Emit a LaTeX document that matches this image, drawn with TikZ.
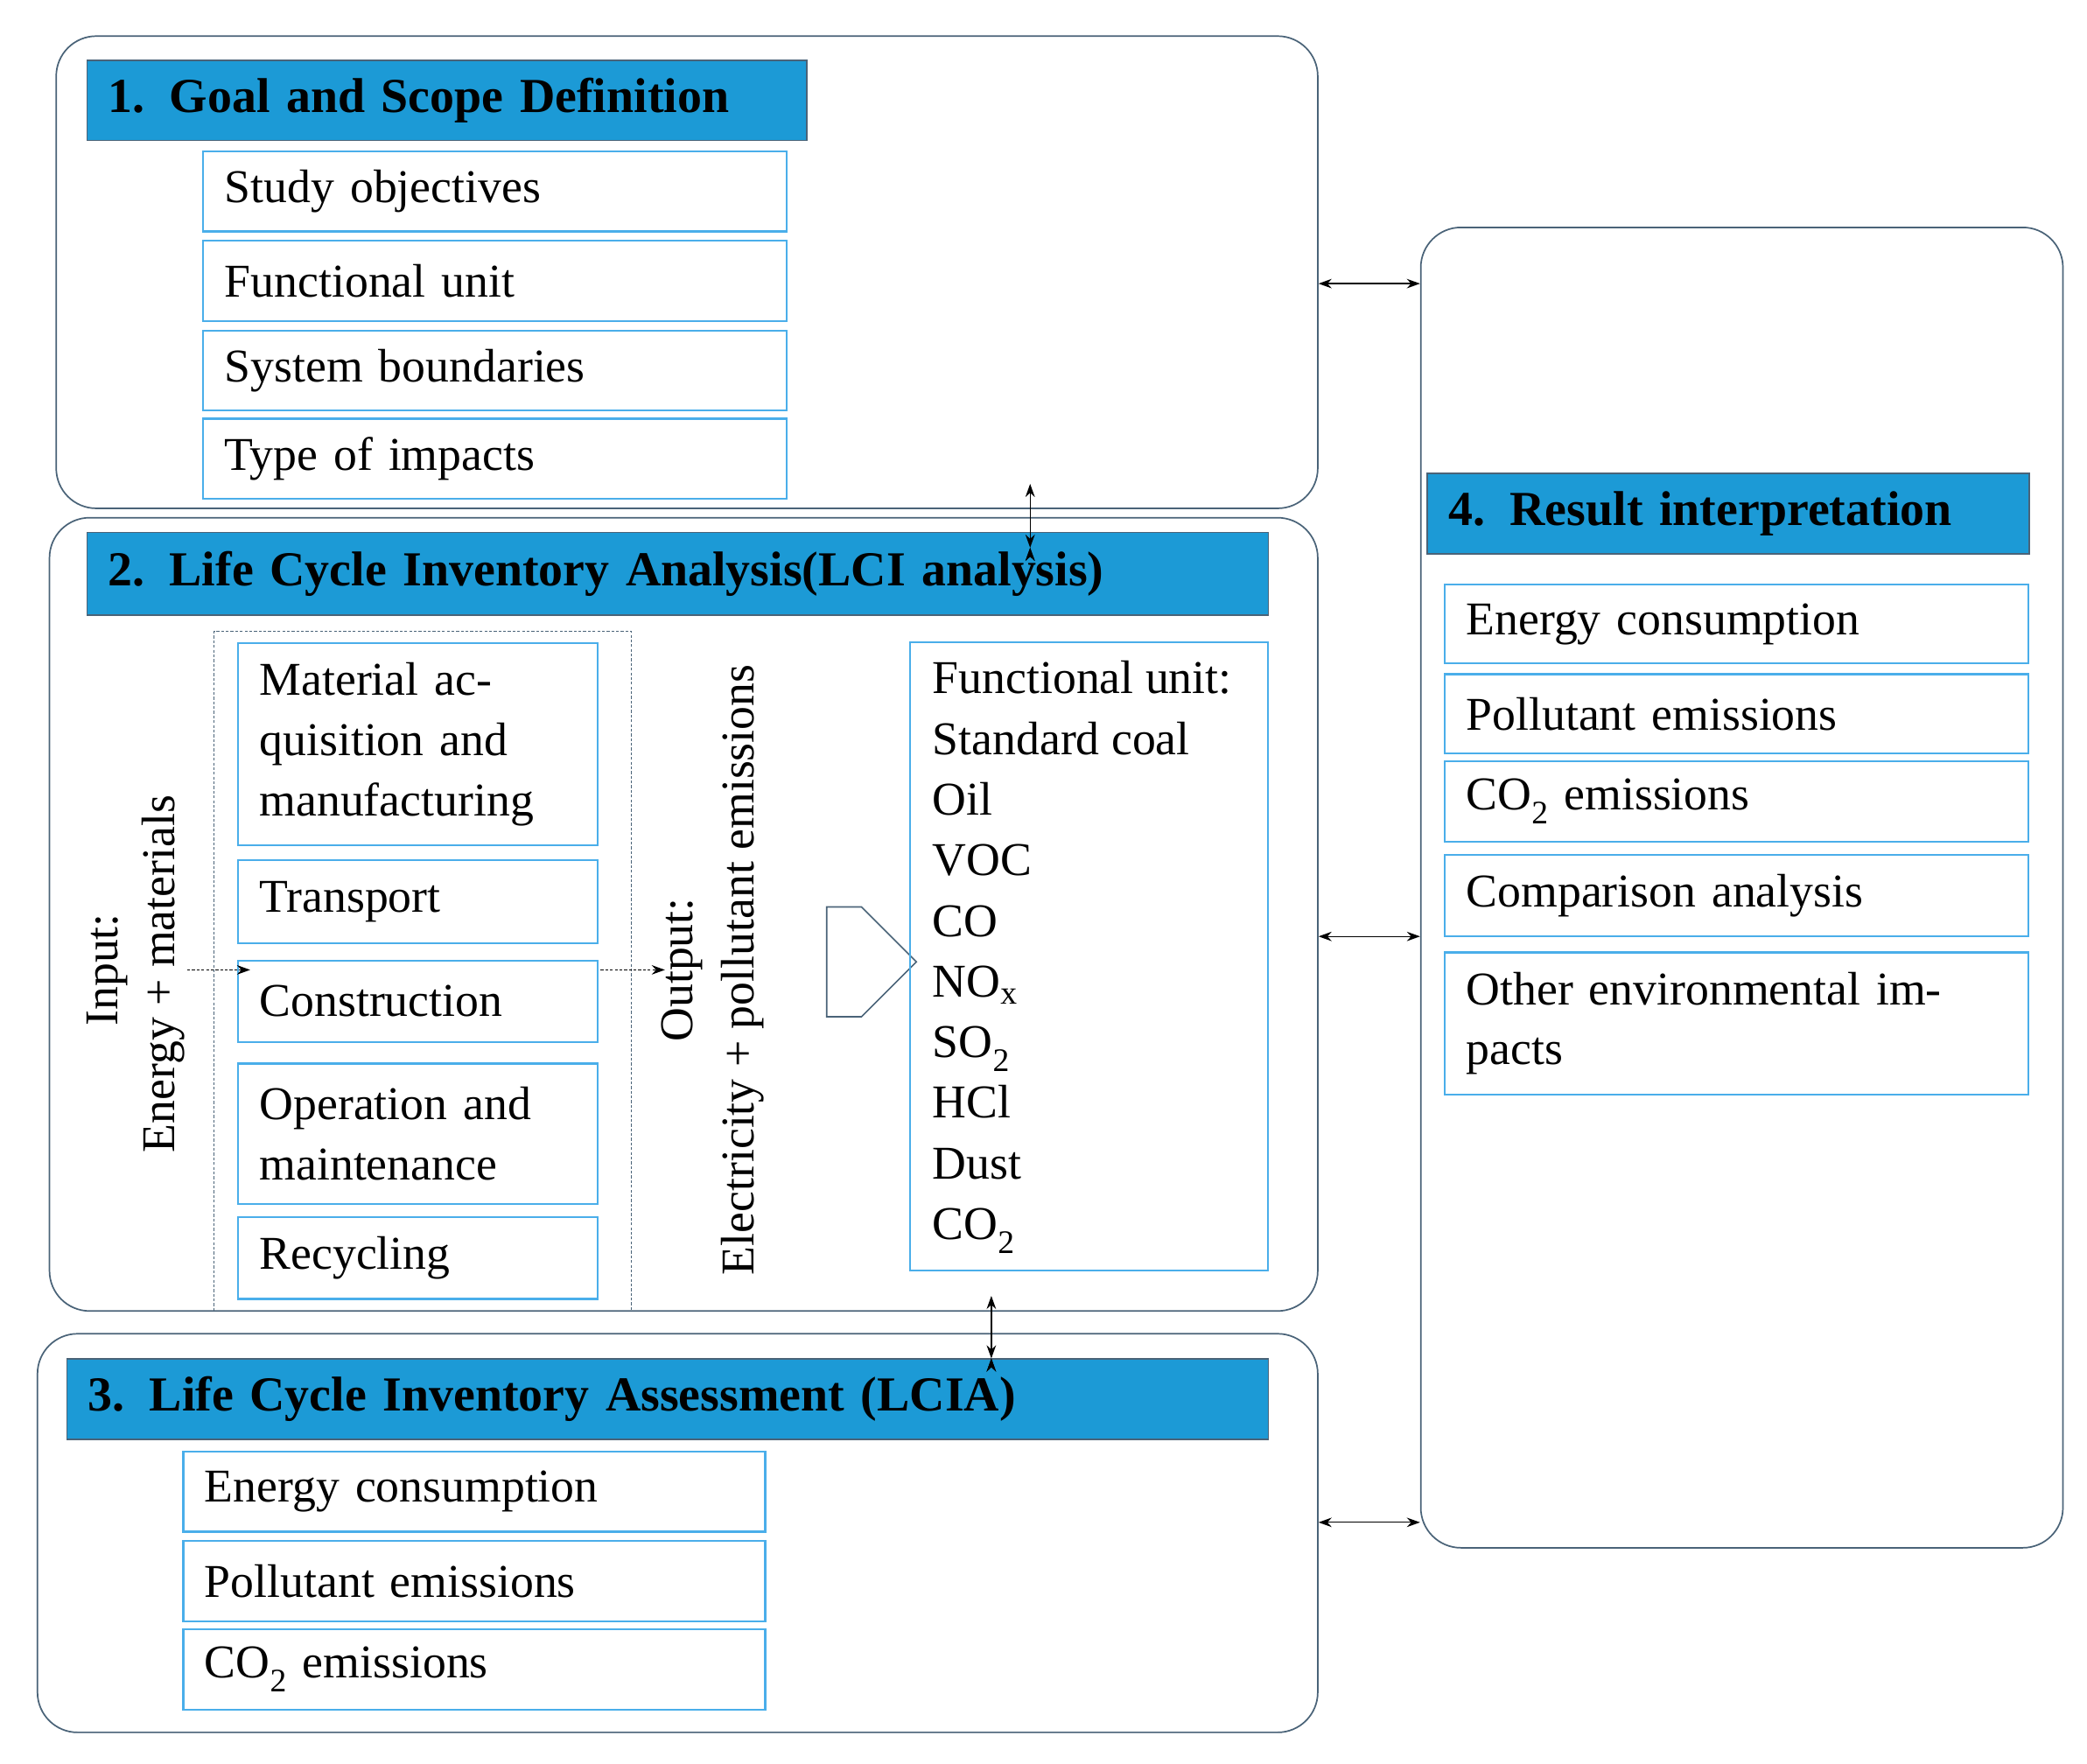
\documentclass[tikz,border=0pt]{standalone}
\usepackage{fontspec}
\setmainfont{Liberation Serif}
\usetikzlibrary{arrows.meta,shapes.arrows}
\definecolor{tb}{HTML}{1C9AD6}
\definecolor{ib}{HTML}{4AAEEA}
\definecolor{ob}{HTML}{4A6378}
\newcommand\bx[7]{\node[#6,minimum width={(#4-#2)*0.05cm},minimum height={(#5-#3)*0.05cm},text width={(#4-#2-32)*0.05cm}] (#1) at ({(#2+#4)/2*0.05cm},{-(#3+#5)/2*0.05cm}) {#7};}
\tikzset{
 big/.style={draw=ob,line width=1.6pt,rounded corners=1.5cm,inner sep=0pt},
 ttl/.style={draw=ob,fill=tb,line width=1.6pt,inner xsep=0.6cm,inner ysep=0pt,align=left,font=\bfseries\fontsize{52}{62}\selectfont},
 itm/.style={draw=ib,line width=2pt,inner xsep=0.8cm,inner ysep=0pt,align=left,font=\fontsize{50}{64}\selectfont},
 dbl/.style={line width=1.2pt,{Stealth[length=14pt,width=10pt]}-{Stealth[length=14pt,width=10pt]}},
 dar/.style={densely dashed,line width=1.2pt,-{Stealth[length=14pt,width=10pt]}},
 rt/.style={rotate=90,font=\fontsize{50}{64}\selectfont,inner sep=0pt}
}
\begin{document}
\begin{tikzpicture}[x=0.05cm,y=-0.05cm]
\useasboundingbox (0,0) rectangle (1560,1318);
% big boxes
\bx{b1}{42}{27}{985}{380}{big}{}
\bx{b2}{37}{387}{985}{980}{big}{}
\bx{b3}{28}{997}{985}{1295}{big}{}
\bx{b4}{1062}{170}{1542}{1157}{big}{}
% box 1
\bx{t1}{65}{45}{603}{105}{ttl}{1. Goal and Scope Definition}
\bx{a1}{152}{113}{588}{173}{itm}{Study objectives}
\bx{a2}{152}{180}{588}{240}{itm}{Functional unit}
\bx{a3}{152}{247}{588}{307}{itm}{System boundaries}
\bx{a4}{152}{313}{588}{373}{itm}{Type of impacts}
% box 2
\bx{t2}{65}{398}{948}{460}{ttl}{2. Life Cycle Inventory Analysis(LCI analysis)}
\bx{dsh}{160}{472}{472}{980}{draw=ob,densely dashed,line width=1.4pt}{}
\bx{c1}{178}{481}{447}{632}{itm}{Material acquisition and manufacturing}
\bx{c2}{178}{643}{447}{705}{itm}{Transport}
\bx{c3}{178}{718}{447}{779}{itm}{Construction}
\bx{c4}{178}{795}{447}{900}{itm}{Operation and maintenance}
\bx{c5}{178}{910}{447}{971}{itm}{Recycling}
\node[rt] (in1) at (80,725) {Input:};
\node[rt] (in2) at (122,728) {Energy + materials};
\node[rt] (out1) at (510,725) {Output:};
\node[rt] (out2) at (555,725) {Electricity + pollutant emissions};
\coordinate (ia) at (140,725);
\coordinate (ib) at (187,725);
\coordinate (oa) at (449,725);
\coordinate (ob) at (497,725);
\draw[dar] (ia) -- (ib);
\draw[dar] (oa) -- (ob);
\node[single arrow,draw=ob,line width=1.6pt,minimum height=3.35cm,minimum width=4.1cm,single arrow head extend=0cm,single arrow tip angle=90,inner sep=0pt] (harr) at (631,719) {};
\bx{fu}{680}{480}{948}{950}{itm}{}
\node[anchor=north west,inner sep=0pt,align=left,font=\fontsize{50}{64.5}\selectfont] (fl) at (697,494) {Functional unit:\\Standard coal\\Oil\\VOC\\CO\\NO\textsubscript{x}\\SO\textsubscript{2}\\HCl\\Dust\\CO\textsubscript{2}};
% box 3
\bx{t3}{50}{1016}{948}{1076}{ttl}{3. Life Cycle Inventory Assessment (LCIA)}
\bx{d1}{137}{1085}{572}{1145}{itm}{Energy consumption}
\bx{d2}{137}{1152}{572}{1212}{itm}{Pollutant emissions}
\bx{d3}{137}{1218}{572}{1278}{itm}{CO\textsubscript{2} emissions}
% box 4
\bx{t4}{1067}{354}{1517}{414}{ttl}{4. Result interpretation}
\bx{e1}{1080}{437}{1516}{496}{itm}{Energy consumption}
\bx{e2}{1080}{504}{1516}{563}{itm}{Pollutant emissions}
\bx{e3}{1080}{569}{1516}{629}{itm}{CO\textsubscript{2} emissions}
\bx{e4}{1080}{639}{1516}{700}{itm}{Comparison analysis}
\bx{e5}{1080}{712}{1516}{818}{itm}{Other environmental impacts}
% connectors
\coordinate (y1) at (0,212);
\coordinate (y2) at (0,700);
\coordinate (y3) at (0,1138);
\draw[dbl] (b1.east |- y1) -- (b4.west |- y1);
\draw[dbl] (b2.east |- y2) -- (b4.west |- y2);
\draw[dbl] (b3.east |- y3) -- (b4.west |- y3);
\coordinate (v1) at (770,0);
\coordinate (v2) at (741,0);
\draw[dbl] (v1 |- a4.south) ++(0,-12) coordinate (v1a) (v1 |- t2.north) ++(0,12) coordinate (v1b);
\draw[dbl] (v1a) -- (v1b);
\draw[dbl] (v2 |- fu.south) ++(0,18) coordinate (v2a) (v2 |- t3.north) coordinate (v2b);
\draw[dbl] (v2a) -- (v2b);
\end{tikzpicture}
\end{document}
